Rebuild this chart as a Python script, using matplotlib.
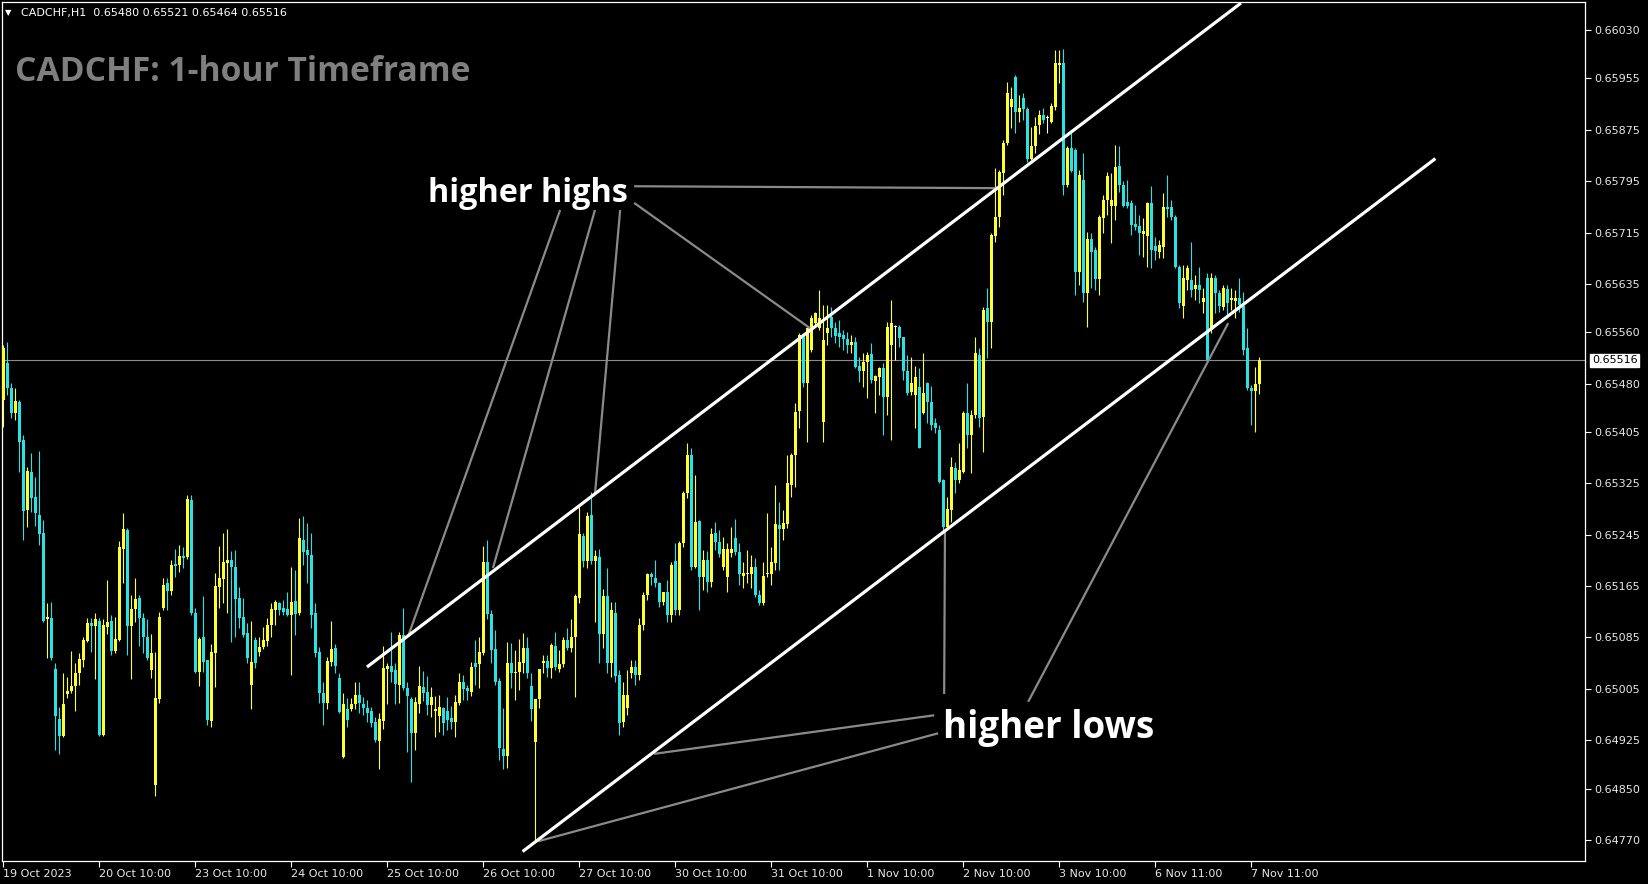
import numpy as np
import matplotlib
matplotlib.use('Agg')
import matplotlib.pyplot as plt
import matplotlib.transforms as mtransforms

# CADCHF H1 candles, prices in points (1 point = 0.00001)
open_pts = [
	65455, 65512, 65473, 65434, 65452, 65392, 65284, 65343, 65304, 65276,
	65248, 65114, 65116, 65036, 64958, 64932, 64997, 65002, 65010, 65030,
	65050, 65080, 65108, 65103, 65111, 64934, 65102, 65111, 65064, 65081,
	65223, 65252, 65103, 65130, 65147, 65116, 65086, 65035, 64856, 64990,
	65131, 65169, 65158, 65200, 65198, 65212, 65210, 65299, 65123, 65032,
	65086, 65050, 64955, 65061, 65164, 65176, 65201, 65206, 65195, 65147,
	65117, 65092, 65011, 65081, 65063, 65070, 65080, 65105, 65127, 65139,
	65131, 65130, 65120, 65142, 65123, 65237, 65221, 65214, 65123, 65063,
	64999, 64983, 65047, 65069, 65022, 64899, 64973, 64974, 64982, 64996,
	64982, 64976, 64971, 64954, 64924, 64955, 65036, 65041, 65035, 65011,
	65089, 65007, 64990, 64937, 64982, 65008, 65000, 64980, 64971, 64963,
	64976, 64971, 64960, 64954, 64983, 65015, 65007, 65000, 65046, 65043,
	65061, 65203, 65122, 65067, 65018, 64912, 64901, 65046, 65030, 65032,
	65046, 65069, 65010, 64923, 64989, 65046, 65049, 65038, 65072, 65036,
	65044, 65081, 65069, 65085, 65147, 65243, 65204, 65276, 65204, 65210,
	65091, 65150, 65046, 65123, 65027, 64954, 64976, 65030, 65039, 65027,
	65105, 65151, 65183, 65178, 65169, 65140, 65155, 65120, 65204, 65128,
	65232, 65310, 65369, 65195, 65266, 65179, 65206, 65172, 65248, 65234,
	65195, 65179, 65217, 65240, 65218, 65181, 65183, 65183, 65195, 65151,
	65139, 65183, 65183, 65201, 65260, 65254, 65262, 65323, 65369, 65438,
	65556, 65481, 65532, 65575, 65567, 65421, 65559, 65584, 65567, 65559,
	65556, 65550, 65540, 65545, 65508, 65500, 65514, 65526, 65484, 65490,
	65505, 65459, 65540, 65568, 65568, 65553, 65500, 65467, 65462, 65475,
	65434, 65481, 65452, 65419, 65408, 65330, 65257, 65284, 65349, 65330,
	65343, 65434, 65400, 65431, 65525, 65428, 65598, 65576, 65710, 65739,
	65808, 65855, 65911, 65957, 65903, 65925, 65907, 65830, 65850, 65883,
	65898, 65893, 65887, 65911, 65976, 65979, 65789, 65847, 65844, 65654,
	65797, 65621, 65705, 65688, 65643, 65738, 65766, 65757, 65757, 65819,
	65789, 65763, 65761, 65728, 65725, 65713, 65710, 65761, 65694, 65685,
	65693, 65755, 65755, 65739, 65662, 65601, 65641, 65641, 65627, 65634,
	65607, 65645, 65564, 65645, 65621, 65599, 65627, 65610, 65609, 65613,
	65601, 65536, 65473, 65469, 65480,
]
high_pts = [
	65540, 65545, 65481, 65473, 65455, 65400, 65350, 65372, 65335, 65375,
	65268, 65139, 65140, 65046, 64977, 65030, 65024, 65064, 65046, 65061,
	65085, 65116, 65116, 65123, 65115, 65113, 65175, 65120, 65117, 65235,
	65279, 65256, 65151, 65178, 65151, 65123, 65114, 65091, 65063, 65125,
	65178, 65178, 65206, 65223, 65229, 65226, 65307, 65307, 65131, 65086,
	65150, 65050, 65075, 65186, 65228, 65248, 65254, 65220, 65221, 65164,
	65147, 65108, 65111, 65086, 65085, 65102, 65116, 65139, 65144, 65140,
	65144, 65155, 65195, 65190, 65271, 65274, 65263, 65248, 65139, 65070,
	65016, 65055, 65111, 65075, 65030, 64999, 64991, 64991, 65015, 65016,
	64993, 64988, 64977, 64962, 64968, 65072, 65046, 65094, 65046, 65094,
	65131, 65015, 64993, 64993, 65041, 65033, 65025, 65008, 64994, 64996,
	64977, 64993, 64979, 64996, 65030, 65027, 65011, 65047, 65081, 65086,
	65228, 65237, 65128, 65097, 65022, 64976, 65078, 65077, 65066, 65083,
	65092, 65085, 65029, 64990, 65036, 65058, 65058, 65077, 65094, 65066,
	65086, 65100, 65113, 65153, 65288, 65248, 65280, 65312, 65221, 65223,
	65161, 65193, 65140, 65140, 65035, 65015, 65035, 65050, 65050, 65116,
	65155, 65186, 65187, 65206, 65172, 65156, 65175, 65203, 65232, 65235,
	65313, 65388, 65380, 65338, 65268, 65221, 65220, 65256, 65265, 65252,
	65242, 65232, 65257, 65270, 65232, 65203, 65221, 65214, 65209, 65159,
	65203, 65279, 65226, 65323, 65296, 65284, 65369, 65372, 65450, 65559,
	65559, 65568, 65587, 65592, 65626, 65603, 65603, 65599, 65576, 65579,
	65564, 65561, 65556, 65553, 65522, 65528, 65529, 65543, 65494, 65506,
	65512, 65576, 65610, 65571, 65571, 65553, 65525, 65522, 65508, 65505,
	65528, 65483, 65477, 65427, 65416, 65332, 65304, 65366, 65358, 65388,
	65438, 65481, 65439, 65553, 65536, 65599, 65629, 65715, 65816, 65813,
	65859, 65949, 65942, 65960, 65929, 65932, 65911, 65879, 65895, 65906,
	65909, 65898, 65917, 65999, 65999, 66001, 65850, 65870, 65847, 65813,
	65839, 65716, 65715, 65693, 65742, 65774, 65809, 65808, 65851, 65850,
	65795, 65797, 65766, 65758, 65742, 65738, 65763, 65788, 65708, 65704,
	65777, 65805, 65766, 65742, 65665, 65665, 65665, 65701, 65649, 65662,
	65629, 65652, 65652, 65649, 65626, 65634, 65634, 65629, 65626, 65645,
	65623, 65567, 65478, 65506, 65521,
]
low_pts = [
	65413, 65462, 65427, 65424, 65343, 65237, 65257, 65280, 65259, 65229,
	65109, 65053, 65050, 64910, 64904, 64930, 64991, 64999, 64971, 65011,
	65039, 65078, 65063, 65021, 64932, 64932, 65091, 65058, 65061, 65079,
	65170, 65058, 65021, 65109, 65072, 65061, 65050, 65022, 64839, 64983,
	65128, 65127, 65151, 65179, 65187, 65193, 65207, 65120, 65030, 65010,
	65032, 64949, 64946, 65008, 65131, 65139, 65123, 65078, 65086, 65100,
	65086, 65046, 64974, 65038, 65056, 65067, 65072, 65086, 65105, 65120,
	65120, 65118, 65027, 65089, 65120, 65198, 65170, 65100, 65055, 64983,
	64949, 64974, 65041, 65030, 64968, 64897, 64946, 64971, 64973, 64968,
	64965, 64954, 64945, 64923, 64881, 64943, 64982, 65015, 64982, 64983,
	65004, 64907, 64860, 64910, 64968, 64986, 64965, 64962, 64930, 64938,
	64934, 64941, 64943, 64930, 64980, 64988, 64988, 64994, 65011, 65007,
	65058, 65113, 65046, 65011, 64895, 64881, 64882, 65007, 64988, 65004,
	65030, 65022, 64955, 64767, 64976, 65030, 65024, 65022, 65035, 65032,
	65039, 65066, 65063, 64993, 65139, 65195, 65193, 65200, 65109, 65046,
	65069, 65030, 65024, 65015, 64934, 64945, 64965, 65022, 65011, 65019,
	65097, 65144, 65167, 65164, 65133, 65136, 65109, 65109, 65120, 65120,
	65226, 65302, 65190, 65193, 65128, 65159, 65156, 65164, 65221, 65210,
	65190, 65155, 65210, 65214, 65167, 65162, 65170, 65162, 65148, 65136,
	65136, 65179, 65167, 65190, 65190, 65237, 65256, 65304, 65319, 65411,
	65475, 65389, 65529, 65568, 65564, 65389, 65540, 65553, 65543, 65537,
	65532, 65528, 65528, 65505, 65483, 65475, 65458, 65481, 65434, 65462,
	65400, 65431, 65392, 65517, 65537, 65486, 65462, 65462, 65411, 65380,
	65432, 65419, 65408, 65403, 65325, 65248, 65256, 65265, 65310, 65325,
	65341, 65380, 65341, 65427, 65413, 65374, 65520, 65536, 65701, 65724,
	65774, 65851, 65878, 65870, 65887, 65890, 65825, 65828, 65839, 65869,
	65886, 65870, 65886, 65906, 65948, 65774, 65786, 65809, 65618, 65634,
	65607, 65568, 65629, 65626, 65618, 65715, 65742, 65699, 65735, 65778,
	65755, 65753, 65711, 65719, 65680, 65677, 65662, 65660, 65673, 65676,
	65676, 65739, 65735, 65660, 65598, 65582, 65626, 65615, 65610, 65606,
	65590, 65514, 65559, 65590, 65592, 65595, 65582, 65595, 65582, 65592,
	65525, 65470, 65416, 65405, 65464,
]
close_pts = [
	65536, 65473, 65434, 65453, 65389, 65282, 65344, 65302, 65279, 65246,
	65111, 65117, 65053, 64963, 64932, 64982, 65002, 65010, 65030, 65052,
	65081, 65108, 65103, 65113, 64934, 65105, 65109, 65064, 65083, 65226,
	65254, 65103, 65130, 65145, 65116, 65086, 65053, 65061, 64991, 65117,
	65167, 65158, 65198, 65196, 65212, 65209, 65301, 65123, 65032, 65083,
	65047, 64957, 65063, 65165, 65178, 65203, 65206, 65195, 65145, 65116,
	65089, 65053, 65047, 65046, 65070, 65081, 65105, 65130, 65140, 65128,
	65125, 65120, 65140, 65122, 65239, 65218, 65214, 65120, 65061, 64999,
	64983, 65049, 65067, 65041, 64969, 64982, 64957, 64982, 64996, 64983,
	64976, 64968, 64952, 64926, 64958, 65038, 65041, 65032, 65013, 65089,
	65007, 64994, 64937, 64985, 65010, 64999, 64980, 64993, 64973, 64977,
	64952, 64957, 64954, 64985, 65015, 65005, 65002, 65039, 65039, 65063,
	65203, 65122, 65066, 65015, 64913, 64901, 65046, 65029, 65032, 65047,
	65069, 65029, 64974, 64989, 65036, 65049, 65038, 65074, 65039, 65044,
	65081, 65069, 65085, 65150, 65246, 65204, 65274, 65204, 65212, 65091,
	65150, 65046, 65127, 65025, 64952, 64996, 64996, 65039, 65027, 65105,
	65151, 65183, 65179, 65169, 65140, 65155, 65120, 65198, 65128, 65232,
	65310, 65369, 65195, 65265, 65179, 65206, 65172, 65246, 65234, 65215,
	65223, 65223, 65223, 65218, 65183, 65186, 65186, 65195, 65151, 65139,
	65181, 65186, 65203, 65262, 65254, 65263, 65326, 65369, 65436, 65556,
	65481, 65567, 65582, 65590, 65582, 65548, 65567, 65567, 65554, 65553,
	65550, 65540, 65545, 65506, 65500, 65514, 65525, 65486, 65492, 65505,
	65459, 65568, 65575, 65568, 65551, 65500, 65466, 65481, 65490, 65380,
	65466, 65452, 65416, 65411, 65327, 65257, 65285, 65350, 65330, 65346,
	65434, 65400, 65431, 65528, 65427, 65595, 65576, 65711, 65739, 65809,
	65855, 65932, 65923, 65903, 65909, 65907, 65830, 65850, 65881, 65898,
	65890, 65893, 65912, 65979, 65979, 65789, 65847, 65811, 65654, 65805,
	65621, 65705, 65685, 65643, 65739, 65766, 65803, 65766, 65817, 65789,
	65757, 65757, 65727, 65724, 65715, 65718, 65761, 65688, 65687, 65696,
	65755, 65752, 65739, 65662, 65606, 65645, 65660, 65626, 65634, 65626,
	65613, 65517, 65645, 65621, 65601, 65629, 65606, 65613, 65613, 65603,
	65532, 65473, 65469, 65480, 65516,
]

# time axis: one label every 24 bars
tick_bars = [0, 24, 48, 72, 96, 120, 144, 168, 192, 216, 240, 264, 288, 312]
tick_labels = ['19 Oct 2023', '20 Oct 10:00', '23 Oct 10:00', '24 Oct 10:00', '25 Oct 10:00',
			   '26 Oct 10:00', '27 Oct 10:00', '30 Oct 10:00', '31 Oct 10:00', '1 Nov 10:00',
			   '2 Nov 10:00', '3 Nov 10:00', '6 Nov 11:00', '7 Nov 11:00']
price_ticks = [0.66030, 0.65955, 0.65875, 0.65795, 0.65715, 0.65635, 0.65560, 0.65480,
			   0.65405, 0.65325, 0.65245, 0.65165, 0.65085, 0.65005, 0.64925, 0.64850, 0.64770]
last_price = 0.65516

# channel trendlines (bar index, price)
upper_channel = ([90.9, 309.4], [0.65039, 0.66072])
lower_channel = ([129.8, 358.0], [0.64752, 0.65830])

# pointer lines from the labels to the touches
hh_pointers = [
	([139.2, 101.2], [0.65750, 0.65087]),
	([147.9, 122.4], [0.65750, 0.65193]),
	([154.2, 147.9], [0.65750, 0.65308]),
	([157.7, 201.7], [0.65761, 0.65566]),
	([157.7, 248.4], [0.65787, 0.65784]),
]
hl_pointers = [
	([235.2, 235.4], [0.64997, 0.65251]),
	([256.2, 306.2], [0.64985, 0.65574]),
	([232.7, 162.7], [0.64964, 0.64904]),
	([233.7, 133.7], [0.64936, 0.64768]),
]

o = np.array(open_pts) / 1e5
h = np.array(high_pts) / 1e5
l = np.array(low_pts) / 1e5
c = np.array(close_pts) / 1e5
x = np.arange(len(o))

BULL = '#ffff2e'
BEAR = '#27e3e6'
colors = np.where(c > o, BULL, np.where(c < o, BEAR, '#ffffff'))

fig = plt.figure(figsize=(16.49, 8.84), dpi=100, facecolor='black')
ax = fig.add_axes([2 / 1649, 23 / 884, 1583 / 1649, 859 / 884], facecolor='black')

ax.axhline(last_price, color='#8c8c8c', lw=0.8, zorder=1)

ax.vlines(x, l, h, colors=colors, lw=0.8, zorder=2)
body_bottom = np.minimum(o, c)
body_height = np.maximum(np.abs(c - o), 1.3e-5)
ax.bar(x, body_height, bottom=body_bottom, width=0.72, color=colors, linewidth=0, zorder=3)

ax.plot(*upper_channel, color='white', lw=2.3, solid_capstyle='butt', zorder=5)
ax.plot(*lower_channel, color='white', lw=2.3, solid_capstyle='butt', zorder=5)
for xs, ys in hh_pointers + hl_pointers:
	ax.plot(xs, ys, color='#8a8a8a', lw=1.6, solid_capstyle='butt', zorder=4)

ax.text(106.2, 0.65775, 'higher highs', color='white', fontsize=23.3, fontweight='bold',
		family='Open Sans', ha='left', va='center', zorder=6)
ax.text(234.9, 0.64944, 'higher lows', color='white', fontsize=26.5, fontweight='bold',
		family='Open Sans', ha='left', va='center', zorder=6)

ax.set_xlim(-0.33, 395.4)
ax.set_ylim(0.647373, 0.660736)

for side in ['left', 'right', 'top', 'bottom']:
	ax.spines[side].set_color('white')
	ax.spines[side].set_linewidth(0.9)

ax.yaxis.tick_right()
ax.set_yticks(price_ticks)
ax.set_yticklabels(['%.5f' % p for p in price_ticks])
ax.set_xticks(tick_bars)
ax.set_xticklabels(tick_labels)
ax.tick_params(axis='y', colors='white', labelcolor='#e8e8e8', labelsize=8, length=4, width=0.8, pad=3)
ax.tick_params(axis='x', colors='white', labelcolor='#e8e8e8', labelsize=8, length=4, width=0.8, pad=1.5)
for lab in ax.get_xticklabels():
	lab.set_horizontalalignment('left')

# current price tag on the price scale
trans = mtransforms.blended_transform_factory(ax.transAxes, ax.transData)
ax.text(1.0045, last_price, '%.5f' % last_price, transform=trans, ha='left', va='center',
		fontsize=8, color='black', clip_on=False, zorder=7,
		bbox=dict(boxstyle='square,pad=0.15', facecolor='white', edgecolor='white'))

# chart header and title
fig.text(5 / 1649, 1 - 13 / 884, '\u25bc', color='white', fontsize=6, ha='left', va='center')
fig.text(21 / 1649, 1 - 13 / 884, 'CADCHF,H1  0.65480 0.65521 0.65464 0.65516', color='white',
		 fontsize=8, ha='left', va='center')
fig.text(15 / 1649, 1 - 72 / 884, 'CADCHF: 1-hour Timeframe', color='#7f7f7f', fontsize=24.2,
		 fontweight='bold', family='Open Sans', ha='left', va='center')

fig.savefig('out.png', dpi=100, facecolor='black')
